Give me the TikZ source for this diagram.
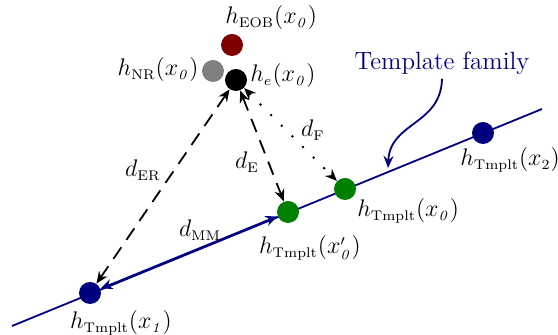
\documentclass[tikz,border=0pt]{standalone}
\usetikzlibrary{arrows.meta}
\DeclareMathSizes{13.2}{13.2}{7.2}{5.5}
\definecolor{navy}{RGB}{0,0,128}
\definecolor{dgreen}{RGB}{0,128,0}
\definecolor{dred}{RGB}{128,0,0}
\definecolor{dgrey}{RGB}{128,128,128}
\begin{document}
\begin{tikzpicture}[x=0.5pt,y=-0.5pt,
  dot/.style={circle,inner sep=0pt,minimum size=11pt},
  lbl/.style={inner sep=0.5pt,font=\fontsize{13.2}{16}\selectfont},
  tip/.style={{Stealth[length=6pt,width=5pt]}-{Stealth[length=6pt,width=5pt]}},
  dashline/.style={line width=0.9pt,dash pattern=on 7pt off 4.5pt},
  dotline/.style={line width=1pt,dash pattern=on 1pt off 6.5pt}]
\useasboundingbox (0,0) rectangle (558,335);
% template line
\coordinate (L1) at (12,326);
\coordinate (L2) at (542,109);
\draw[navy,line width=0.9pt] (L1) -- (L2);
% dots
\node[dot,fill=navy] (x1) at (90,293) {};
\node[dot,fill=dgreen] (xp0) at (288,212) {};
\node[dot,fill=dgreen] (x0) at (345,189) {};
\node[dot,fill=navy] (x2) at (483,133) {};
\node[dot,fill=black] (he) at (236,80) {};
\node[dot,fill=dgrey] (nr) at (213,71) {};
\node[dot,fill=dred] (eob) at (232,45) {};
% labels
\node[lbl,anchor=west] (leob) at (224,18) {$h_{\mathrm{EOB}}(x_{\mathit{0}})$};
\node[lbl,anchor=east] (lnr) at (200,70) {$h_{\mathrm{NR}}(x_{\mathit{0}})$};
\node[lbl,anchor=west] (lhe) at (249,76) {$h_{e}(x_{\mathit{0}})$};
\node[lbl] (lder) at (143,170) {$d_{\mathrm{ER}}$};
\node[lbl] (lde) at (247,162) {$d_{\mathrm{E}}$};
\node[lbl] (ldf) at (313,130) {$d_{\mathrm{F}}$};
\node[lbl] (ldmm) at (200,230) {$d_{\mathrm{MM}}$};
\node[lbl] (lxp0) at (310,248) {$h_{\mathrm{Tmplt}}(x'_{\mathit{0}})$};
\node[lbl,anchor=west] (lx0) at (356,211) {$h_{\mathrm{Tmplt}}(x_{\mathit{0}})$};
\node[lbl,anchor=west] (lx2) at (459,160) {$h_{\mathrm{Tmplt}}(x_{2})$};
\node[lbl] (lx1) at (121,323) {$h_{\mathrm{Tmplt}}(x_{\mathit{1}})$};
\node[inner sep=1pt,font=\fontsize{12.5}{15}\selectfont,text=navy] (tf) at (442,63) {Template family};
% distance arrows
\draw[tip,dashline] (he) -- (x1);
\draw[tip,dashline] (he) -- (xp0);
\draw[tip,dotline] (he) -- (x0);
\draw[tip,navy,line width=0.9pt] (x1) -- (xp0);
% template family pointer
\coordinate (tfend) at (388,168);
\draw[navy,line width=0.9pt,-{Stealth[length=6pt,width=5pt]}] (tf.south) ++(0,2) .. controls (441,125) and (390,122) .. (tfend);
\end{tikzpicture}
\end{document}
